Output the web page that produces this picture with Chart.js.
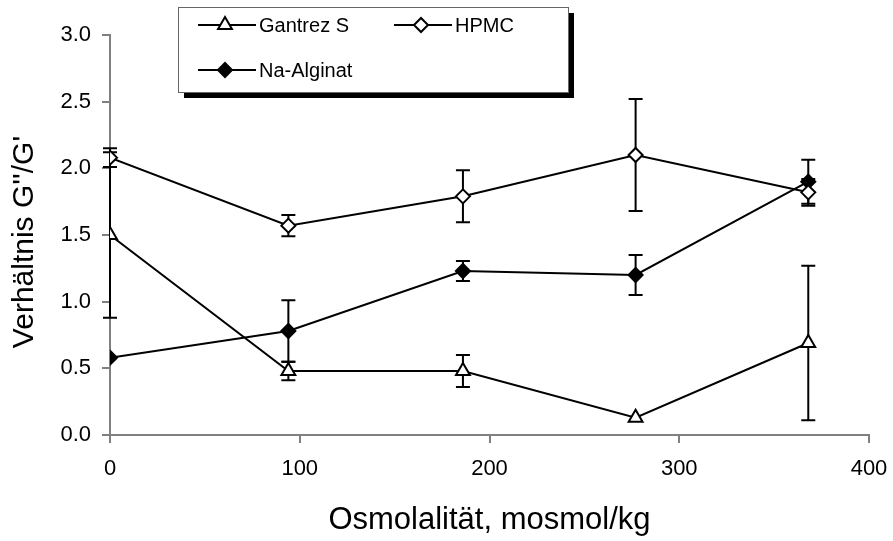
<!DOCTYPE html>
<html>
<head>
<meta charset="utf-8">
<script src="https://cdn.jsdelivr.net/npm/chart.js@4.4.1/dist/chart.umd.min.js"></script>
<style>
  body { margin: 0; background: #fff; }
  #wrap { width: 893px; height: 541px; }
</style>
</head>
<body>
<div id="wrap"><canvas id="ratioChart" width="893" height="541"></canvas></div>
<script>
// Values
const osmolality = [0, 94, 186, 277, 368];
const gantrezS = [1.50, 0.48, 0.48, 0.13, 0.69];
const gantrezErr = [0.62, 0.07, 0.12, 0, 0.58];
const hpmc = [2.08, 1.57, 1.79, 2.10, 1.82];
const hpmcErr = [0.07, 0.08, 0.195, 0.42, 0.10];
const naAlginat = [0.58, 0.78, 1.23, 1.20, 1.90];
const naAlginatErr = [0, 0.23, 0.075, 0.15, 0.165];
const xTicks = [0, 100, 200, 300, 400];
const yTicks = [0, 0.5, 1.0, 1.5, 2.0, 2.5, 3.0];
const seriesNames = ['Gantrez S', 'HPMC', 'Na-Alginat'];
const yTitle = "Verhältnis G''/G'";

const fontFamily = '"Liberation Sans", Arial, sans-serif';
const axisGray = '#808080';

function toPoints(values) {
    return values.map((v, i) => ({ x: osmolality[i], y: v }));
}

// Error bars, drawn under the markers
const errorBars = {
    id: 'errorBars',
    beforeDatasetsDraw(chart) {
        const ctx = chart.ctx;
        const yScale = chart.scales.y;
        ctx.save();
        ctx.strokeStyle = '#000';
        ctx.lineWidth = 2;
        chart.data.datasets.forEach((ds, di) => {
            const meta = chart.getDatasetMeta(di);
            meta.data.forEach((pt, i) => {
                const err = ds.errors[i];
                if (!err) return;
                const v = ds.data[i].y;
                const yTop = yScale.getPixelForValue(v + err);
                const yBot = yScale.getPixelForValue(v - err);
                ctx.beginPath();
                ctx.moveTo(pt.x, yTop);
                ctx.lineTo(pt.x, yBot);
                ctx.moveTo(pt.x - 7, yTop);
                ctx.lineTo(pt.x + 7, yTop);
                ctx.moveTo(pt.x - 7, yBot);
                ctx.lineTo(pt.x + 7, yBot);
                ctx.stroke();
            });
        });
        ctx.restore();
    }
};

// y axis title, placed a little below the axis middle like the original
const yAxisTitle = {
    id: 'yAxisTitle',
    afterDraw(chart) {
        const ctx = chart.ctx;
        const area = chart.chartArea;
        ctx.save();
        ctx.translate(25, (area.top + area.bottom) / 2 + 7);
        ctx.rotate(-Math.PI / 2);
        ctx.font = '30px ' + fontFamily;
        ctx.fillStyle = '#000';
        ctx.textAlign = 'center';
        ctx.textBaseline = 'middle';
        ctx.fillText(yTitle, 0, 0);
        ctx.restore();
    }
};

// Boxed legend with a drop shadow
const boxLegend = {
    id: 'boxLegend',
    afterDraw(chart) {
        const ctx = chart.ctx;
        const box = { left: 178, top: 7, right: 568, bottom: 92 };
        ctx.save();
        ctx.fillStyle = '#000';
        ctx.fillRect(box.left + 6, box.top + 6, box.right - box.left, box.bottom - box.top);
        ctx.fillStyle = '#fff';
        ctx.fillRect(box.left, box.top, box.right - box.left, box.bottom - box.top);
        ctx.strokeStyle = '#666';
        ctx.lineWidth = 1;
        ctx.strokeRect(box.left + 0.5, box.top + 0.5, box.right - box.left, box.bottom - box.top);

        const slots = [{ x: 198, y: 25 }, { x: 394, y: 25 }, { x: 198, y: 70 }];
        ctx.font = '20px ' + fontFamily;
        ctx.textBaseline = 'middle';
        chart.data.datasets.forEach((ds, i) => {
            const s = slots[i];
            ctx.strokeStyle = '#000';
            ctx.lineWidth = 2;
            ctx.beginPath();
            ctx.moveTo(s.x, s.y);
            ctx.lineTo(s.x + 58, s.y);
            ctx.stroke();
            ctx.fillStyle = ds.pointBackgroundColor;
            ctx.strokeStyle = '#000';
            ctx.lineWidth = 2;
            Chart.helpers.drawPoint(ctx, {
                pointStyle: ds.pointStyle,
                radius: ds.pointRadius,
                borderWidth: 2,
                rotation: 0
            }, s.x + 27, s.y);
            ctx.fillStyle = '#000';
            ctx.fillText(seriesNames[i], s.x + 61, s.y + 1);
        });
        ctx.restore();
    }
};

const lineStyle = {
    borderColor: '#000',
    borderWidth: 2,
    pointBorderColor: '#000',
    pointBorderWidth: 2,
    pointRadius: 7,
    pointHoverRadius: 7,
    tension: 0,
    fill: false
};

const ratioChart = new Chart(document.getElementById('ratioChart').getContext('2d'), {
    type: 'line',
    data: {
        datasets: [
            Object.assign({
                label: seriesNames[0],
                data: toPoints(gantrezS),
                errors: gantrezErr,
                pointStyle: 'triangle',
                pointBackgroundColor: '#fff'
            }, lineStyle, { pointRadius: 8, pointHoverRadius: 8 }),
            Object.assign({
                label: seriesNames[1],
                data: toPoints(hpmc),
                errors: hpmcErr,
                pointStyle: 'rectRot',
                pointBackgroundColor: '#fff'
            }, lineStyle),
            Object.assign({
                label: seriesNames[2],
                data: toPoints(naAlginat),
                errors: naAlginatErr,
                pointStyle: 'rectRot',
                pointBackgroundColor: '#000'
            }, lineStyle)
        ]
    },
    options: {
        responsive: false,
        animation: false,
        devicePixelRatio: 1,
        layout: {
            padding: { left: 0, top: 35, right: 24, bottom: 0 }
        },
        scales: {
            x: {
                type: 'linear',
                min: 0,
                max: 400,
                afterBuildTicks(scale) {
                    scale.ticks = xTicks.map(v => ({ value: v }));
                },
                afterFit(scale) {
                    scale.height = 106;
                    // labels overhang the ends, don't let them shrink the plot
                    scale.paddingLeft = 0;
                    scale.paddingRight = 0;
                },
                grid: {
                    drawOnChartArea: false,
                    tickLength: 8,
                    color: axisGray,
                    lineWidth: 2
                },
                border: { color: axisGray, width: 2 },
                ticks: {
                    color: '#000',
                    padding: 13,
                    maxRotation: 0,
                    font: { family: fontFamily, size: 22 }
                },
                title: {
                    display: true,
                    text: 'Osmolalität, mosmol/kg',
                    color: '#000',
                    padding: { top: 0, bottom: 2 },
                    font: { family: fontFamily, size: 31 }
                }
            },
            y: {
                type: 'linear',
                min: 0,
                max: 3,
                afterBuildTicks(scale) {
                    scale.ticks = yTicks.map(v => ({ value: v }));
                },
                afterFit(scale) {
                    scale.width = 110;
                },
                grid: {
                    drawOnChartArea: false,
                    tickLength: 8,
                    color: axisGray,
                    lineWidth: 2
                },
                border: { color: axisGray, width: 2 },
                ticks: {
                    color: '#000',
                    padding: 11,
                    font: { family: fontFamily, size: 22 },
                    callback: v => Number(v).toFixed(1)
                }
            }
        },
        plugins: {
            legend: { display: false },
            tooltip: { enabled: false }
        }
    },
    plugins: [errorBars, yAxisTitle, boxLegend]
});
</script>
</body>
</html>
